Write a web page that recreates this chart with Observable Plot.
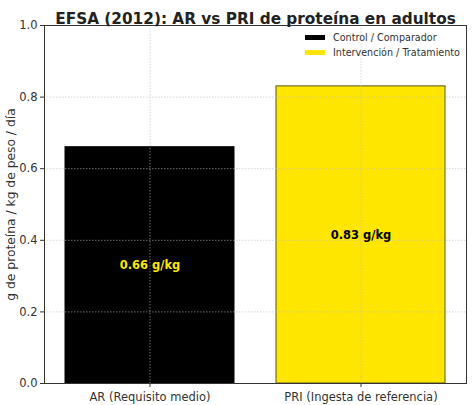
<!DOCTYPE html>
<html>
<head>
<meta charset="utf-8">
<script src="https://cdn.jsdelivr.net/npm/d3@7"></script>
<script src="https://cdn.jsdelivr.net/npm/@observablehq/plot@0.6"></script>
<style>
  body { margin: 0; background: #fff; font-family: "DejaVu Sans", sans-serif; }
  #chart { position: relative; width: 474px; height: 405px; }
  .legend { position: absolute; left: 305px; top: 30px; font-size: 9.6px; color: #333; line-height: 15px; white-space: nowrap; }
  .legend span.sw { display: inline-block; width: 20px; height: 5px; margin-right: 8px; vertical-align: 1px; }
</style>
</head>
<body>
<div id="chart"></div>
<script>
// values
const categories = ["AR (Requisito medio)", "PRI (Ingesta de referencia)"];
const values = [0.66, 0.83];
const barLabels = ["0.66 g/kg", "0.83 g/kg"];
const fills = ["#000000", "#ffe600"];
const labelColors = ["#ffe600", "#000000"];
const legendItems = ["Control / Comparador", "Intervención / Tratamiento"];
const yTicks = [0, 0.2, 0.4, 0.6, 0.8, 1.0];

const data = categories.map((c, i) => ({
  cat: c, value: values[i], label: barLabels[i], fill: fills[i], ink: labelColors[i]
}));

const chart = Plot.plot({
  width: 474,
  height: 405,
  marginTop: 25,
  marginBottom: 22,
  marginLeft: 44,
  marginRight: 8,
  style: { fontFamily: "'DejaVu Sans', sans-serif", fontSize: "11px", color: "#333" },
  x: { domain: categories, paddingInner: 0.2, paddingOuter: 0.1, label: null },
  y: { domain: [0, 1], label: null },
  marks: [
    Plot.barY(data, { x: "cat", y: "value", fill: "fill", stroke: d => d.fill === "#000000" ? "#000" : "#5a5320", strokeWidth: 1 }),
    Plot.gridY(yTicks, { stroke: "#bbb", strokeOpacity: 0.6, strokeDasharray: "1.5,1.5" }),
    Plot.gridX(categories, { stroke: "#bbb", strokeOpacity: 0.6, strokeDasharray: "1.5,1.5" }),
    Plot.text(data, { x: "cat", y: d => d.value / 2, text: "label", fill: "ink", fontWeight: "bold", fontSize: 11.5 }),
    Plot.frame({ stroke: "#333" }),
    Plot.axisY(yTicks, { tickFormat: d3.format(".1f"), tickSize: 4, tickPadding: 3, fontSize: 11.5, label: null }),
    Plot.axisX({ tickSize: 4, fontSize: 11.5, label: null }),
    Plot.text(["g de proteína / kg de peso / día"], { frameAnchor: "left", textAnchor: "middle", rotate: -90, dx: -33, fontSize: 12.3, fill: "#333" }),
    Plot.text(["EFSA (2012): AR vs PRI de proteína en adultos"], { frameAnchor: "top", dy: -12, fontSize: 15.3, fontWeight: "bold", fill: "#222" })
  ]
});

const el = document.getElementById("chart");
el.appendChild(chart);

const legend = document.createElement("div");
legend.className = "legend";
legend.innerHTML = legendItems.map((t, i) =>
  `<div><span class="sw" style="background:${fills[i]}"></span>${t}</div>`).join("");
el.appendChild(legend);
</script>
</body>
</html>
